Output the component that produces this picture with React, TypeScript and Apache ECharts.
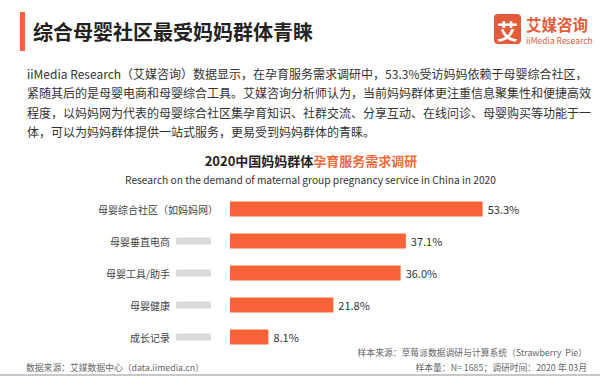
import React, { useEffect, useRef } from "react";
import * as echarts from "echarts";

const categories = ["母婴综合社区（如妈妈网）", "母婴垂直电商", "母婴工具/助手", "母婴健康", "成长记录"];
const values = [53.3, 37.1, 36.0, 21.8, 8.1];
const blurred = [false, true, true, true, true];

const pageTitle = "综合母婴社区最受妈妈群体青睐";
const paragraph = [
  "iiMedia Research（艾媒咨询）数据显示，在孕育服务需求调研中，53.3%受访妈妈依赖于母婴综合社区，",
  "紧随其后的是母婴电商和母婴综合工具。艾媒咨询分析师认为，当前妈妈群体更注重信息聚集性和便捷高效",
  "程度，以妈妈网为代表的母婴综合社区集孕育知识、社群交流、分享互动、在线问诊、母婴购买等功能于一",
  "体，可以为妈妈群体提供一站式服务，更易受到妈妈群体的青睐。",
];
const chartTitleA = "2020中国妈妈群体";
const chartTitleB = "孕育服务需求调研";
const chartSubtitle = "Research on the demand of maternal group pregnancy service in China in 2020";
const sourceLeft = "数据来源：艾媒数据中心（data.iimedia.cn）";
const sourceRight1 = "样本来源：草莓派数据调研与计算系统（Strawberry  Pie）";
const sourceRight2 = "样本量：N= 1685；调研时间：2020 年 03月";

const ORANGE = "#F8633A";
const FONT = "'Noto Sans CJK SC', 'Noto Sans', sans-serif";

export default function App() {
  const ref = useRef<HTMLDivElement>(null);
  useEffect(() => {
    if (!ref.current) return;
    const chart = echarts.init(ref.current, null, { renderer: "svg" });
    const graphic: any[] = [
      { type: "rect", shape: { x: 20, y: 12, width: 5, height: 39 }, style: { fill: ORANGE } },
      {
        type: "text", x: 33, y: 31,
        style: { text: pageTitle, font: `bold 20px ${FONT}`, fill: "#222", verticalAlign: "middle" },
      },
      { type: "rect", shape: { x: 494, y: 14, width: 27, height: 30, r: 4 }, style: { fill: "#E25C3B" } },
      {
        type: "text", x: 507.5, y: 29.5,
        style: { text: "艾", font: `bold 21px ${FONT}`, fill: "#fff", align: "center", verticalAlign: "middle" },
      },
      {
        type: "text", x: 526, y: 24,
        style: { text: "艾媒咨询", font: `bold 15.5px ${FONT}`, fill: "#E25C3B", verticalAlign: "middle" },
      },
      {
        type: "text", x: 526, y: 40,
        style: { text: "iiMedia Research", font: `8.5px ${FONT}`, fill: "#E25C3B", verticalAlign: "middle" },
      },
      ...paragraph.map((t, i) => ({
        type: "text", x: 27, y: 73 + i * 19.6,
        style: { text: t, font: `12px ${FONT}`, fill: "#333", verticalAlign: "middle" },
      })),
      {
        type: "text", x: 311, y: 160,
        style: {
          text: `{a|${chartTitleA}}{b|${chartTitleB}}`,
          align: "center", verticalAlign: "middle",
          rich: {
            a: { fontFamily: FONT, fontSize: 13, fontWeight: "bold", fill: "#222", color: "#222" },
            b: { fontFamily: FONT, fontSize: 13, fontWeight: "bold", fill: "#F26A3C", color: "#F26A3C" },
          },
        },
      },
      {
        type: "text", x: 310.5, y: 179.5,
        style: { text: chartSubtitle, font: `10.2px ${FONT}`, fill: "#333", align: "center", verticalAlign: "middle" },
      },
      {
        type: "text", x: 587, y: 352,
        style: { text: sourceRight1, font: `8.8px ${FONT}`, fill: "#666", align: "right", verticalAlign: "middle" },
      },
      {
        type: "text", x: 587, y: 367.5,
        style: { text: sourceRight2, font: `8.8px ${FONT}`, fill: "#666", align: "right", verticalAlign: "middle" },
      },
      {
        type: "text", x: 26, y: 367.5,
        style: { text: sourceLeft, font: `8.8px ${FONT}`, fill: "#666", verticalAlign: "middle" },
      },
      { type: "rect", shape: { x: 0, y: 374, width: 600, height: 2 }, style: { fill: "#C8C8C8" } },
    ];
    chart.setOption({
      animation: false,
      backgroundColor: "#fff",
      textStyle: { fontFamily: FONT },
      grid: { left: 230, top: 193, width: 284.4, height: 160 },
      xAxis: { type: "value", min: 0, max: 60, show: false },
      yAxis: {
        type: "category",
        data: categories,
        inverse: true,
        axisLine: { show: false },
        axisTick: { show: false },
        splitLine: { show: false },
        axisLabel: {
          margin: 12,
          formatter: (v: string, i: number) => (blurred[i] ? `{n|${v}}{p|}{g|}{s|}` : `{n|${v}}`),
          rich: {
            n: { fontFamily: FONT, fontSize: 10, color: "#444", verticalAlign: "middle", lineHeight: 14 },
            p: { width: 6, height: 14, lineHeight: 14, verticalAlign: "middle" },
            g: { width: 35, height: 7, lineHeight: 14, backgroundColor: "#DADADA", borderRadius: 1, verticalAlign: "middle" },
            s: { width: 7, height: 14, lineHeight: 14, verticalAlign: "middle" },
          },
        },
      },
      series: [
        {
          type: "bar",
          data: values,
          barWidth: 15,
          itemStyle: { color: ORANGE },
          label: {
            show: true,
            position: "right",
            distance: 5,
            formatter: (p: any) => `${p.value.toFixed(1)}%`,
            fontFamily: FONT,
            fontSize: 11,
            color: "#333",
          },
        },
      ],
      graphic,
    });
    return () => chart.dispose();
  }, []);
  return <div ref={ref} style={{ position: "fixed", left: 0, top: 0, width: 600, height: 376 }} />;
}
